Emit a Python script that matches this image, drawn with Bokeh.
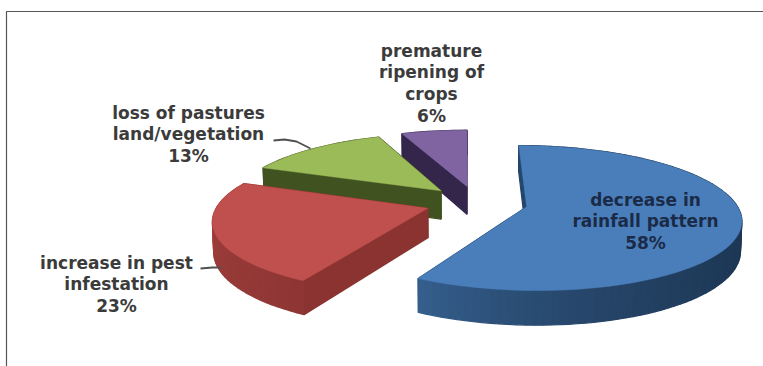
import math
from bokeh.plotting import figure
from bokeh.embed import file_html
from bokeh.resources import INLINE
from bokeh.core.properties import value

# Slices in drawing order: clockwise from twelve o'clock
categories = ["decrease in rainfall pattern", "increase in pest infestation",
              "loss of pastures land/vegetation", "premature ripening of crops"]
shares = [58, 23, 13, 6]
top_colors = ["#4a7ebb", "#c0504d", "#9bbb59", "#8064a2"]
rim_from = ["#1b3450", "#8e3634", "#46581f", "#33264a"]
rim_to = ["#36608f", "#a8423f", "#46581f", "#33264a"]
rim_gamma = [4, 1, 1, 1]
wall_colors = ["#24466c", "#8a3331", "#3f5220", "#33264a"]

label_lines = [
    ["decrease in", "rainfall pattern", "58%"],
    ["increase in pest", "infestation", "23%"],
    ["loss of pastures", "land/vegetation", "13%"],
    ["premature", "ripening of", "crops", "6%"],
]
label_colors = ["#1b2b47", "#3b3b3b", "#3b3b3b", "#3b3b3b"]
label_anchor = [(645, 199), (116, 262), (188, 112), (431, 50)]

# Projection of the tilted pie onto the page
CX, CY, VX = 476.0, 202.0, 468.0
A, B, K = 209.0, 69.4, 0.154
DEPTH = 29.0
EXPLODE = 0.245
FONT_SIZE = "17px"
LINE_STEP = 21.7


def project(x, y, lowered=False):
    w = 1.0 / (1.0 + K * y)
    px = VX + (CX - VX + A * x) * w
    py = CY - B * y * w
    if lowered:
        py += DEPTH * w
        px = VX + (px - VX) * 0.995
    return px, py


def hex_mix(a, b, t):
    ca = [int(a[i:i + 2], 16) for i in (1, 3, 5)]
    cb = [int(b[i:i + 2], 16) for i in (1, 3, 5)]
    return "#%02x%02x%02x" % tuple(round(p + (q - p) * t) for p, q in zip(ca, cb))


p = figure(width=763, height=366, x_range=(0, 763), y_range=(366, 0),
           output_backend="svg", toolbar_location=None, min_border=0,
           outline_line_color=None, background_fill_color="white",
           border_fill_color="white")
p.axis.visible = False
p.grid.visible = False

# Thin page frame along the top and left edges
p.line([6, 6, 763], [366, 11, 11], line_color="#555555", line_width=1.2)

# Build each slice's faces
total = sum(shares)
spans = []
start = 0.0
for s in shares:
    spans.append((start, start + 360.0 * s / total))
    start += 360.0 * s / total


def quad(p0, p1, color):
    xs0, ys0 = project(*p0)
    xs1, ys1 = project(*p1)
    xb1, yb1 = project(*p1, lowered=True)
    xb0, yb0 = project(*p0, lowered=True)
    p.patch([xs0, xs1, xb1, xb0], [ys0, ys1, yb1, yb0], fill_color=color,
            line_color=color, line_width=1.2)


for i in (3, 2, 1, 0):
    a0, a1 = spans[i]
    mid = math.radians((a0 + a1) / 2)
    ox, oy = EXPLODE * math.sin(mid), EXPLODE * math.cos(mid)
    steps = max(4, int((a1 - a0) / 2))
    rim = []
    for j in range(steps + 1):
        t = math.radians(a0 + (a1 - a0) * j / steps)
        rim.append((ox + math.sin(t), oy + math.cos(t)))
    apex = (ox, oy)

    faces = [(apex, rim[0], wall_colors[i]), (apex, rim[-1], wall_colors[i])]
    for j in range(steps):
        shade = (j / steps) ** rim_gamma[i]
        faces.append((rim[j], rim[j + 1], hex_mix(rim_from[i], rim_to[i], shade)))
    # Paint the side faces from the back of the pie to the front
    faces.sort(key=lambda f: -(f[0][1] + f[1][1]))
    for f in faces:
        quad(*f)

    outline = [project(*apex)] + [project(*q) for q in rim]
    p.patch([q[0] for q in outline], [q[1] for q in outline],
            fill_color=top_colors[i], line_color=top_colors[i], line_width=0.5)

# Leader lines for the two labels set away from their slices
p.line([273, 284, 296, 310], [140, 139, 141, 148], line_color="#505050", line_width=1.8)
p.line([200, 212, 221], [268, 267, 267], line_color="#505050", line_width=1.8)

# Category labels
for lines, color, (lx, ly) in zip(label_lines, label_colors, label_anchor):
    ys = [ly + LINE_STEP * n for n in range(len(lines))]
    p.text([lx] * len(lines), ys, text=lines, text_align="center",
           text_baseline="middle", text_color=color, text_font_size=FONT_SIZE,
           text_font=value("DejaVu Sans"), text_font_style="bold")

open("out.html", "w").write(file_html(p, INLINE))
